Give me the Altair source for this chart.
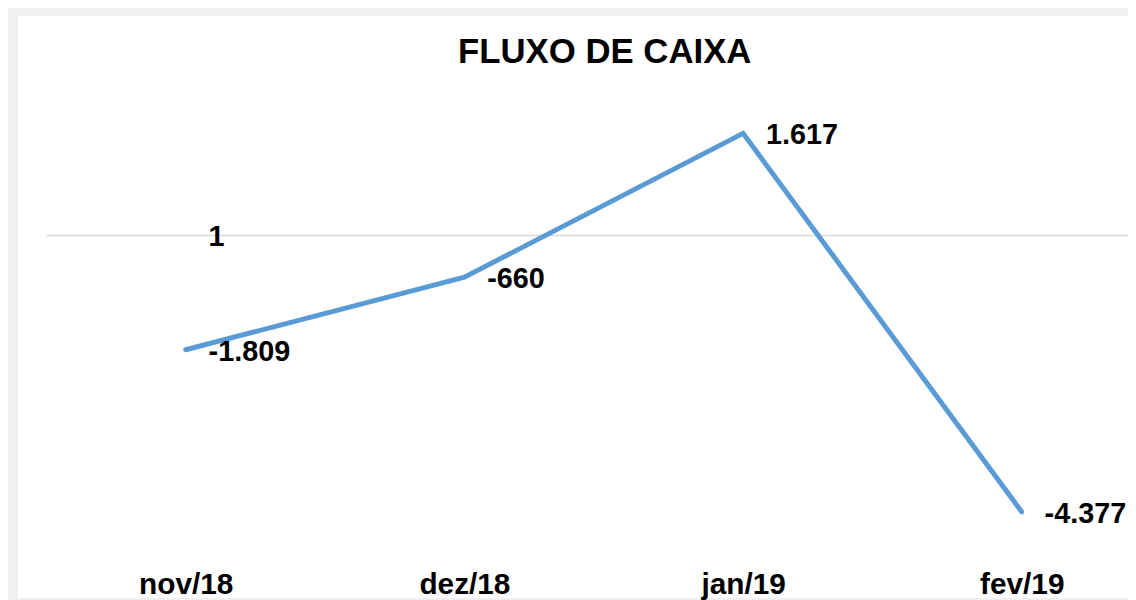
import altair as alt
import pandas as pd

months = ["nov/18", "dez/18", "jan/19", "fev/19"]
values = [-1809, -660, 1617, -4377]
extra_months = ["nov/18"]
extra_values = [1]
zero_line = [0]
title_text = "FLUXO DE CAIXA"


def fmt(v):
    return f"{v:,}".replace(",", ".")


df = pd.DataFrame({"mes": months, "valor": values, "rotulo": [fmt(v) for v in values]})
df2 = pd.DataFrame({"mes": extra_months, "valor": extra_values,
                    "rotulo": [fmt(v) for v in extra_values]})
df0 = pd.DataFrame({"valor": zero_line})

FONT = "Liberation Sans"

x = alt.X(
    "mes:N",
    sort=months,
    scale=alt.Scale(type="point", domain=months, range=[169, 1011], padding=0),
    axis=alt.Axis(title=None, domain=False, ticks=False, grid=False, labelAngle=0,
                  labelFont=FONT, labelFontSize=30, labelFontWeight="bold",
                  labelColor="black", labelBaseline="alphabetic", labelPadding=0,
                  offset=-4),
)
yscale = alt.Scale(domain=[-5739, 3475], nice=False, zero=False)
y = alt.Y("valor:Q", scale=yscale, axis=None)

rule = alt.Chart(df0).mark_rule(color="#d9d9d9", strokeWidth=1.5).encode(
    y=alt.Y("valor:Q", scale=yscale, axis=None),
    x=alt.value(29),
    x2=alt.value(1118),
)

line = alt.Chart(df).mark_line(color="#5b9bd5", strokeWidth=5, strokeCap="round").encode(
    x=x, y=y
)

text_style = dict(align="left", baseline="alphabetic", dx=23, dy=11, font=FONT,
                  fontSize=29, fontWeight="bold", color="black")

labels = alt.Chart(df).mark_text(**text_style).encode(x=x, y=y, text="rotulo:N")
labels2 = alt.Chart(df2).mark_text(**text_style).encode(x=x, y=y, text="rotulo:N")

chart = alt.layer(rule, line, labels, labels2).properties(
    width=1118,
    height=586,
    padding={"left": 10, "top": 6, "right": 0, "bottom": 0},
    autosize=alt.AutoSizeParams(type="none"),
    background="#f0f0f0",
    title=alt.TitleParams(title_text, font=FONT, fontSize=35, fontWeight="bold",
                          color="black", anchor="middle", dx=32, dy=82, offset=0,
                          baseline="alphabetic"),
).configure_view(fill="white", strokeWidth=0)

chart.save("out.html", embed_options={"renderer": "svg", "actions": False})
